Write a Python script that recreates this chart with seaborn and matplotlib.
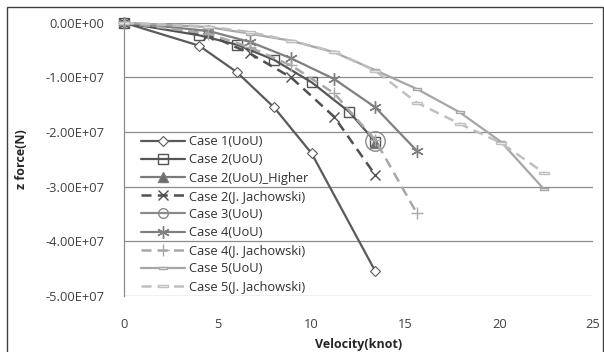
import matplotlib
matplotlib.use("Agg")
import matplotlib.pyplot as plt
import matplotlib.ticker as mticker
from matplotlib.patches import Rectangle
import numpy as np
import pandas as pd
import seaborn as sns

# Velocity (knot) and z force (N, in units of 1e7) for each case
case1_v = [0, 4, 6, 8, 10, 13.4]
case1_f = [0, -0.42, -0.90, -1.55, -2.39, -4.55]

case2_v = [0, 4, 6, 8, 10, 12, 13.4]
case2_f = [0, -0.23, -0.40, -0.68, -1.09, -1.63, -2.18]

case2h_v = [13.4]
case2h_f = [-2.20]

case2j_v = [0, 4.5, 6.7, 8.9, 11.2, 13.4]
case2j_f = [0, -0.22, -0.56, -1.00, -1.72, -2.79]

case3_v = [13.4]
case3_f = [-2.17]

case4_v = [0, 4.5, 6.7, 8.9, 11.2, 13.4, 15.6]
case4_f = [0, -0.15, -0.35, -0.65, -1.03, -1.55, -2.34]

case4j_v = [0, 4.5, 6.7, 8.9, 11.2, 13.4, 15.6]
case4j_f = [0, -0.20, -0.45, -0.78, -1.29, -2.15, -3.48]

case5_v = [0, 4.5, 6.7, 8.9, 11.2, 13.4, 15.6, 17.9, 20.1, 22.4]
case5_f = [0, -0.08, -0.20, -0.33, -0.54, -0.87, -1.21, -1.64, -2.18, -3.05]

case5j_v = [0, 4.5, 6.7, 8.9, 11.2, 13.4, 15.6, 17.9, 20.1, 22.4]
case5j_f = [0, -0.07, -0.17, -0.33, -0.53, -0.88, -1.46, -1.85, -2.20, -2.75]

labels = ["Case 1(UoU)", "Case 2(UoU)", "Case 2(UoU)_Higher", "Case 2(J. Jachowski)",
          "Case 3(UoU)", "Case 4(UoU)", "Case 4(J. Jachowski)", "Case 5(UoU)",
          "Case 5(J. Jachowski)"]
xs = [case1_v, case2_v, case2h_v, case2j_v, case3_v, case4_v, case4j_v, case5_v, case5j_v]
ys = [case1_f, case2_f, case2h_f, case2j_f, case3_f, case4_f, case4j_f, case5_f, case5j_f]

frames = []
for lab, xv, yv in zip(labels, xs, ys):
    frames.append(pd.DataFrame({"series": lab, "v": xv, "f": np.array(yv) * 1e7}))
df = pd.concat(frames, ignore_index=True)

# small flat rectangle used for the Case 5 markers
bar_marker = [(-1, -0.32), (1, -0.32), (1, 0.32), (-1, 0.32), (-1, -0.32)]

styles = {
    "Case 1(UoU)": dict(color="#5a5a5a", ls="-", marker="D", ms=5.0, mfc="white", lw=1.6, mew=0.8),
    "Case 2(UoU)": dict(color="#555555", ls="-", marker="s", ms=7.5, mfc="none", lw=1.6, mew=1.0),
    "Case 2(UoU)_Higher": dict(color="#7a7a7a", ls="-", marker="^", ms=7, mfc="#6a6a6a", lw=1.6, mew=1.0),
    "Case 2(J. Jachowski)": dict(color="#505050", ls=(0, (4, 2.5)), marker="x", ms=7, mfc="none", lw=1.8, mew=1.0),
    "Case 3(UoU)": dict(color="#8a8a8a", ls="-", marker="o", ms=14, mfc="none", lw=1.6, mew=1.0),
    "Case 4(UoU)": dict(color="#808080", ls="-", marker=(6, 2, 0), ms=9, mfc="none", lw=1.6, mew=1.0),
    "Case 4(J. Jachowski)": dict(color="#a8a8a8", ls=(0, (4, 2.5)), marker="+", ms=8, mfc="none", lw=1.8, mew=1.0),
    "Case 5(UoU)": dict(color="#a6a6a6", ls="-", marker=bar_marker, ms=5.5, mfc="white", lw=1.6, mew=1.0),
    "Case 5(J. Jachowski)": dict(color="#c0c0c0", ls=(0, (4, 2.5)), marker=bar_marker, ms=6.5, mfc="white", lw=1.8, mew=1.0),
}

sns.set_style("white")
plt.rcParams["font.family"] = ["Open Sans", "DejaVu Sans"]

fig = plt.figure(figsize=(6.04, 3.52), dpi=100)
ax = fig.add_axes([124 / 604, 1 - 296 / 352, (593 - 124) / 604, (296 - 22.7) / 352])

for lab in labels:
    st = styles[lab]
    sub = df[df["series"] == lab]
    sns.lineplot(data=sub, x="v", y="f", ax=ax, sort=False, label=lab,
                 color=st["color"], linestyle=st["ls"], linewidth=st["lw"],
                 marker=st["marker"], markersize=st["ms"],
                 markerfacecolor=st["mfc"], markeredgecolor=st["color"],
                 markeredgewidth=st["mew"], errorbar=None)

ax.set_xlim(0, 25)
ax.set_ylim(-5e7, 0)
ax.set_xticks([0, 5, 10, 15, 20, 25])
ax.set_yticks(np.arange(-5e7, 1e6, 1e7))
ax.yaxis.set_major_formatter(mticker.FuncFormatter(lambda v, p: f"{v:.2E}"))
ax.tick_params(axis="both", length=0, labelsize=9.3, colors="#404040")
ax.tick_params(axis="x", pad=16)
ax.tick_params(axis="y", pad=14)
ax.grid(axis="y", color="#8c8c8c", linewidth=0.9)
ax.grid(axis="x", visible=False)
for side in ["top", "right", "bottom"]:
    ax.spines[side].set_visible(False)
ax.spines["left"].set_color("#8c8c8c")
ax.spines["left"].set_linewidth(0.9)
for ln in ax.lines:
    ln.set_clip_on(False)

ax.set_xlabel("Velocity(knot)", fontsize=9, fontweight="bold")
ax.set_ylabel("z force(N)", fontsize=9, fontweight="bold")
ax.xaxis.set_label_coords(0.5, -0.152)
ax.yaxis.set_label_coords(-0.205, 0.5)

leg = ax.legend(loc="upper left", bbox_to_anchor=(0.022, 0.612), frameon=False,
                fontsize=9.3, labelspacing=0.40, handlelength=3.4,
                handletextpad=0.35, borderaxespad=0.2, borderpad=0.3)
for h, lab in zip(leg.legend_handles, labels):
    if lab in ("Case 3(UoU)", "Case 2(UoU)"):
        h.set_markersize(7)
for t in leg.get_texts():
    t.set_color("#303030")

fig.patches.append(Rectangle((6.5 / 604, -0.02), (602.5 - 6.5) / 604, 1 - 7 / 352 + 0.02,
                             transform=fig.transFigure, fill=False,
                             edgecolor="#404040", linewidth=1.0))

fig.savefig("out.png", dpi=100)
